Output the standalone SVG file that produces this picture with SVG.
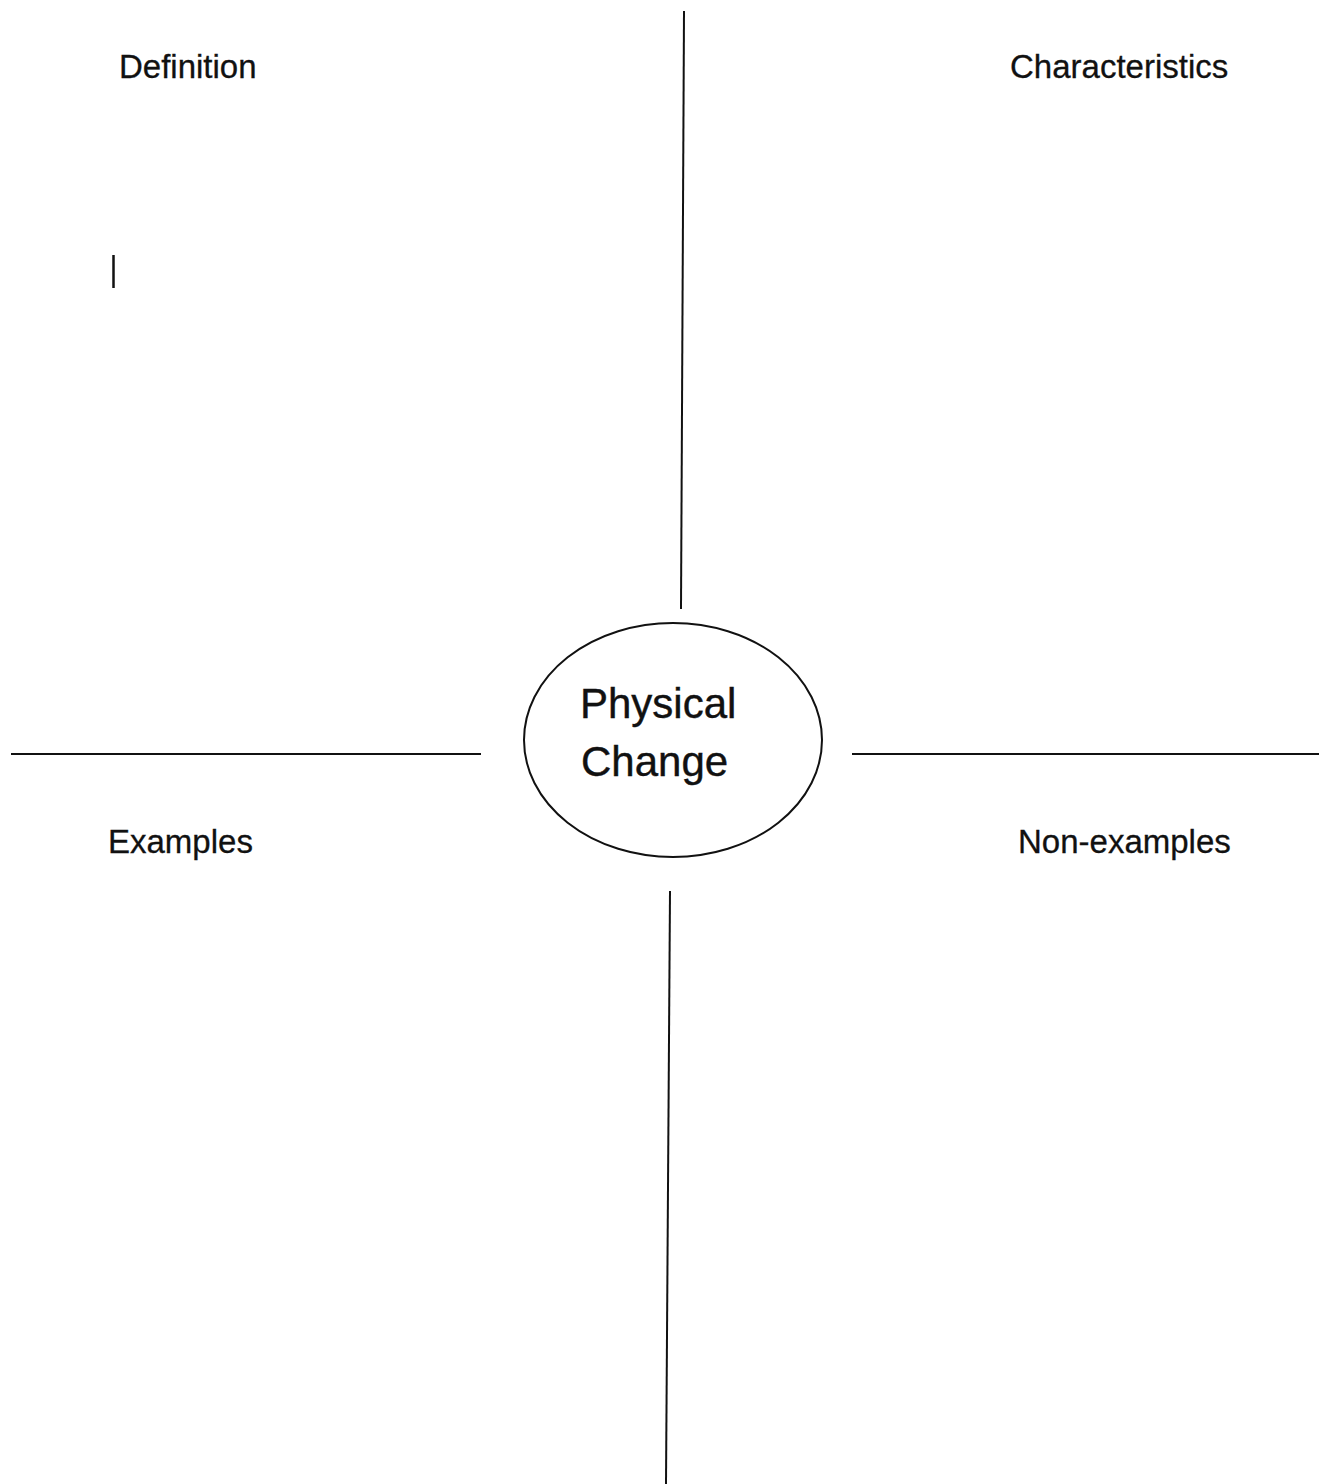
<svg xmlns="http://www.w3.org/2000/svg" width="1319" height="1484" viewBox="0 0 1319 1484">
  <style>
    .label { font-family: "Liberation Sans", Arial, Helvetica, sans-serif; font-size: 33px; fill: #111; stroke: #111; stroke-width: 0.3; }
    .center { font-family: "Liberation Sans", Arial, Helvetica, sans-serif; font-size: 42px; fill: #111; stroke: #111; stroke-width: 0.4; }
    .line { stroke: #111; stroke-width: 2; fill: none; }
  </style>
  <rect width="1319" height="1484" fill="#ffffff"/>

  <!-- dividing lines around the central term -->
  <g id="connectors">
    <line class="line" x1="684" y1="11" x2="681" y2="609"/>
    <line class="line" x1="670" y1="891" x2="666" y2="1484"/>
    <line class="line" x1="11" y1="754" x2="481" y2="754"/>
    <line class="line" x1="852" y1="754" x2="1319" y2="754"/>
  </g>

  <!-- central term -->
  <g id="physical-change">
    <ellipse class="line" cx="673" cy="740" rx="149" ry="117"/>
    <text class="center" x="580" y="718">Physical</text>
    <text class="center" x="581" y="776">Change</text>
  </g>

  <!-- quadrant headings -->
  <g id="definition">
    <text class="label" x="119" y="78">Definition</text>
    <line x1="113.5" y1="255" x2="113.5" y2="288" stroke="#111" stroke-width="2.5"/>
  </g>
  <g id="characteristics">
    <text class="label" x="1010" y="78">Characteristics</text>
  </g>
  <g id="examples">
    <text class="label" x="108" y="853">Examples</text>
  </g>
  <g id="non-examples">
    <text class="label" x="1018" y="853">Non-examples</text>
  </g>
</svg>
